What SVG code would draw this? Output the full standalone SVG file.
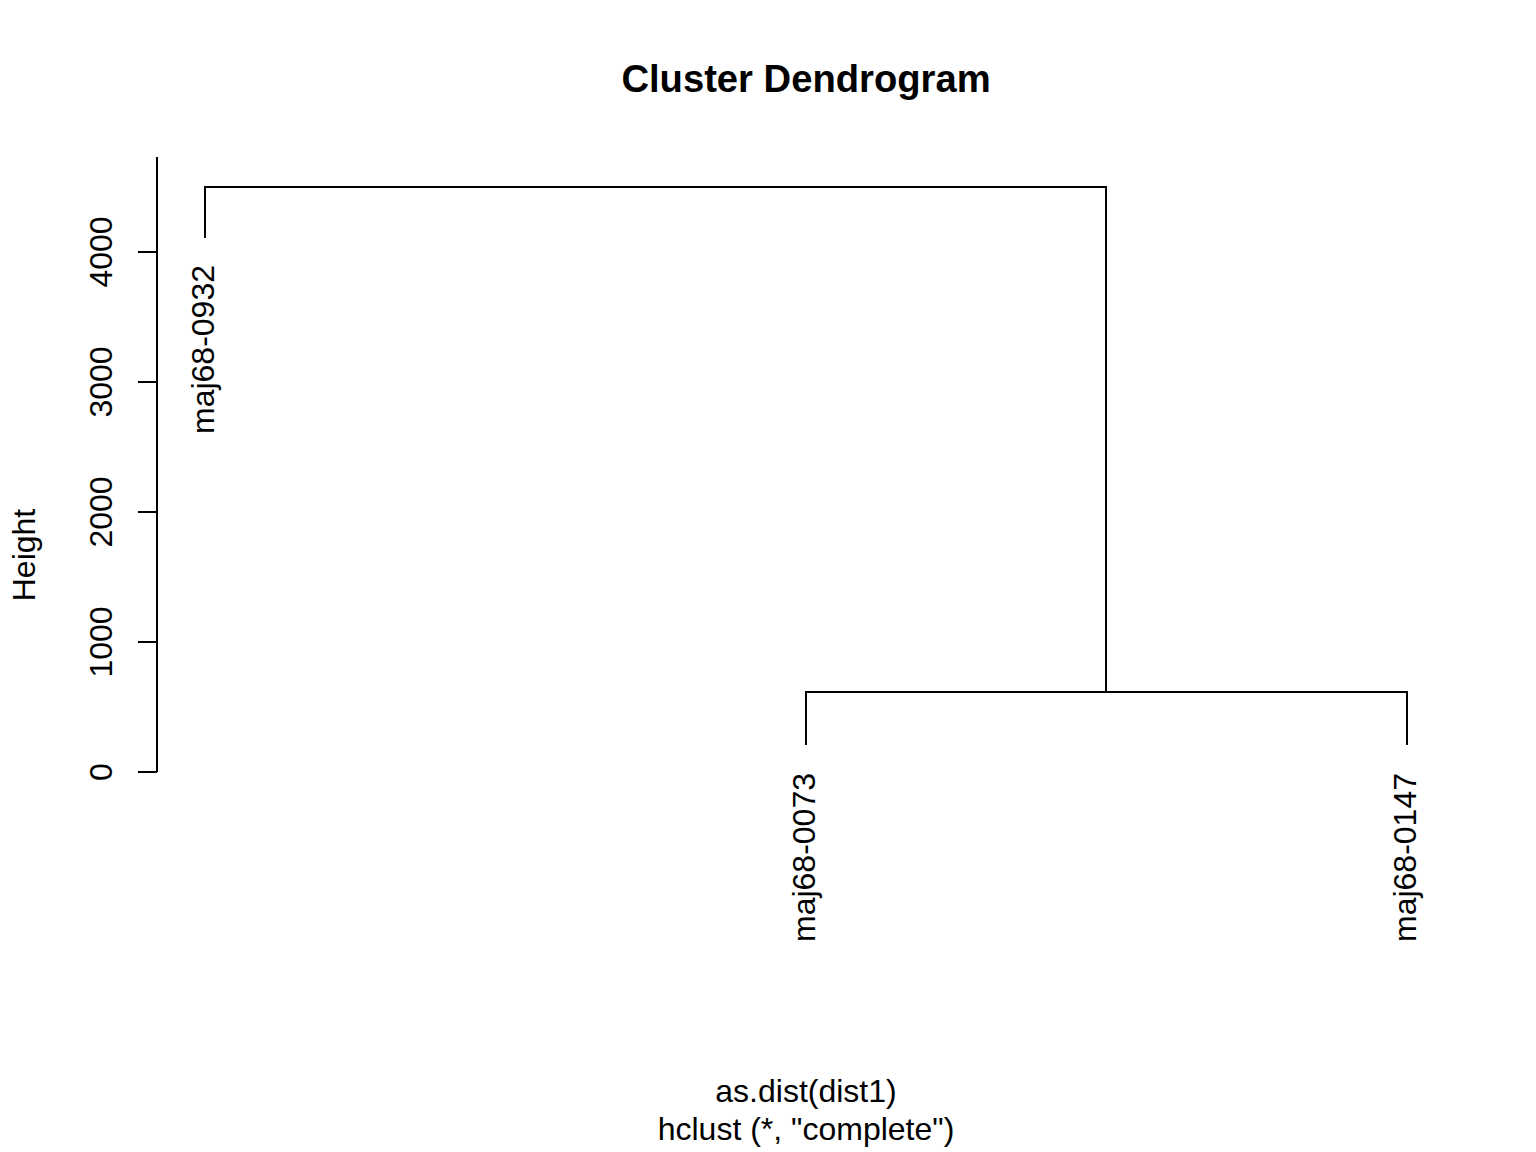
<svg xmlns="http://www.w3.org/2000/svg" width="1536" height="1152" viewBox="0 0 1536 1152">
<style>
text{font-family:"Liberation Sans",Arial,sans-serif;fill:#000;font-size:32px}
.title{font-size:38.2px;font-weight:bold}
.ln{stroke:#000;stroke-width:2;fill:none;stroke-linecap:butt}
</style>
<rect width="1536" height="1152" fill="#fff"/>
<text class="title" x="806" y="92" text-anchor="middle">Cluster Dendrogram</text>
<g id="axis">
<path class="ln" d="M157,157V772M138,772H157M138,642H157M138,512H157M138,382H157M138,252H157"/>
<text transform="translate(112,772) rotate(-90)" text-anchor="middle">0</text>
<text transform="translate(112,642) rotate(-90)" text-anchor="middle">1000</text>
<text transform="translate(112,512) rotate(-90)" text-anchor="middle">2000</text>
<text transform="translate(112,382) rotate(-90)" text-anchor="middle">3000</text>
<text transform="translate(112,252) rotate(-90)" text-anchor="middle">4000</text>
<text transform="translate(35,555) rotate(-90)" text-anchor="middle">Height</text>
</g>
<g id="connectors">
<path class="ln" d="M205,238V187H1106V692"/>
<path class="ln" d="M806,745V692H1407V745"/>
</g>
<g id="leaf-0932"><text transform="translate(214,265) rotate(-90)" text-anchor="end">maj68-0932</text></g>
<g id="leaf-0073"><text transform="translate(815,773) rotate(-90)" text-anchor="end">maj68-0073</text></g>
<g id="leaf-0147"><text transform="translate(1416,773) rotate(-90)" text-anchor="end">maj68-0147</text></g>
<text x="806" y="1102" text-anchor="middle">as.dist(dist1)</text>
<text x="806" y="1140" text-anchor="middle">hclust (*, "complete")</text>
</svg>
